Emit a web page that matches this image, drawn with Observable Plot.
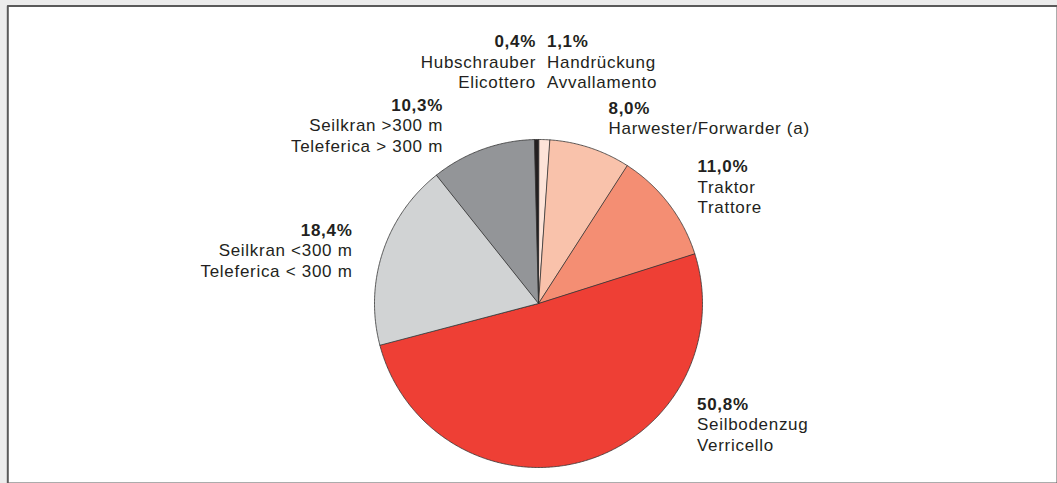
<!DOCTYPE html>
<html><head><meta charset="utf-8">
<script src="https://cdn.jsdelivr.net/npm/d3@7"></script>
<script src="https://cdn.jsdelivr.net/npm/@observablehq/plot@0.6"></script>
<style>html,body{margin:0;padding:0;background:#ececec;overflow:hidden}</style>
</head><body><div id="chart"></div>
<script>
// ---- data ----
const categoriesDE = ["Handrückung", "Harwester/Forwarder (a)", "Traktor", "Seilbodenzug", "Seilkran <300 m", "Seilkran >300 m", "Hubschrauber"];
const categoriesIT = ["Avvallamento", "", "Trattore", "Verricello", "Teleferica < 300 m", "Teleferica > 300 m", "Elicottero"];
const shares = [1.1, 8.0, 11.0, 50.8, 18.4, 10.3, 0.4];
const sliceColors = ["#fde3d8", "#f9c2ab", "#f48e73", "#ee3f35", "#d1d3d4", "#939598", "#231f20"];

// ---- layout ----
const W = 1057, H = 483;
const cx = 538, cy = 303, R = 164;
const lineStep = 20.5;
const labelLayout = [
  {x: 546.5, y: 46.5, anchor: "start"},
  {x: 608, y: 113.3, anchor: "start"},
  {x: 697, y: 171.7, anchor: "start"},
  {x: 696.5, y: 409.3, anchor: "start"},
  {x: 352, y: 235, anchor: "end"},
  {x: 442.5, y: 110, anchor: "end"},
  {x: 535.5, y: 46.5, anchor: "end"}
];

const total = d3.sum(shares);
let acc = 0;
const slices = shares.map((v, i) => {
  const a0 = acc / total * 2 * Math.PI; acc += v;
  const a1 = acc / total * 2 * Math.PI;
  const n = Math.max(2, Math.ceil((a1 - a0) / (Math.PI / 360)));
  const ring = [[cx, cy]];
  for (let k = 0; k <= n; k++) {
    const a = a0 + (a1 - a0) * k / n;
    ring.push([cx + R * Math.sin(a), cy - R * Math.cos(a)]);
  }
  ring.push([cx, cy]);
  return {type: "Feature", properties: {color: sliceColors[i]}, geometry: {type: "Polygon", coordinates: [ring]}};
});

const frame = {type: "Polygon", coordinates: [[[7.3, 5.5], [1080, 5.5], [1080, 510], [7.3, 510], [7.3, 5.5]]]};
const domain = {type: "Polygon", coordinates: [[[0, 0], [W, 0], [W, H], [0, H], [0, 0]]]};

const fmt = v => d3.format(".1f")(v).replace(".", ",") + "%";
const labelRows = [];
shares.forEach((v, i) => {
  const L = labelLayout[i];
  labelRows.push({x: L.x, y: L.y, text: fmt(v), bold: true, anchor: L.anchor});
  [categoriesDE[i], categoriesIT[i]].filter(Boolean).forEach((t, k) =>
    labelRows.push({x: L.x, y: L.y + (k + 1) * lineStep, text: t, bold: false, anchor: L.anchor}));
});

const textOpts = (bold, anchor) => ({
  x: "x", y: "y", text: "text",
  filter: d => d.bold === bold && d.anchor === anchor,
  textAnchor: anchor, lineAnchor: "bottom",
  fontSize: 17, fontWeight: bold ? "bold" : "normal",
  fill: "#231f20"
});

const chart = Plot.plot({
  width: W, height: H,
  margin: 0,
  projection: {type: "identity", domain},
  color: {type: "identity"},
  style: {background: "#ececec", fontFamily: "'Liberation Sans', Arial, sans-serif", letterSpacing: "0.7px", overflow: "hidden"},
  marks: [
    Plot.geo([frame], {fill: "white", stroke: "#5a5a5a", strokeWidth: 2}),
    Plot.geo(slices, {fill: d => d.properties.color, stroke: "#333", strokeWidth: 0.8, strokeLinejoin: "round"}),
    Plot.text(labelRows, textOpts(true, "start")),
    Plot.text(labelRows, textOpts(true, "end")),
    Plot.text(labelRows, textOpts(false, "start")),
    Plot.text(labelRows, textOpts(false, "end"))
  ]
});
document.getElementById("chart").appendChild(chart);
</script>
</body></html>
